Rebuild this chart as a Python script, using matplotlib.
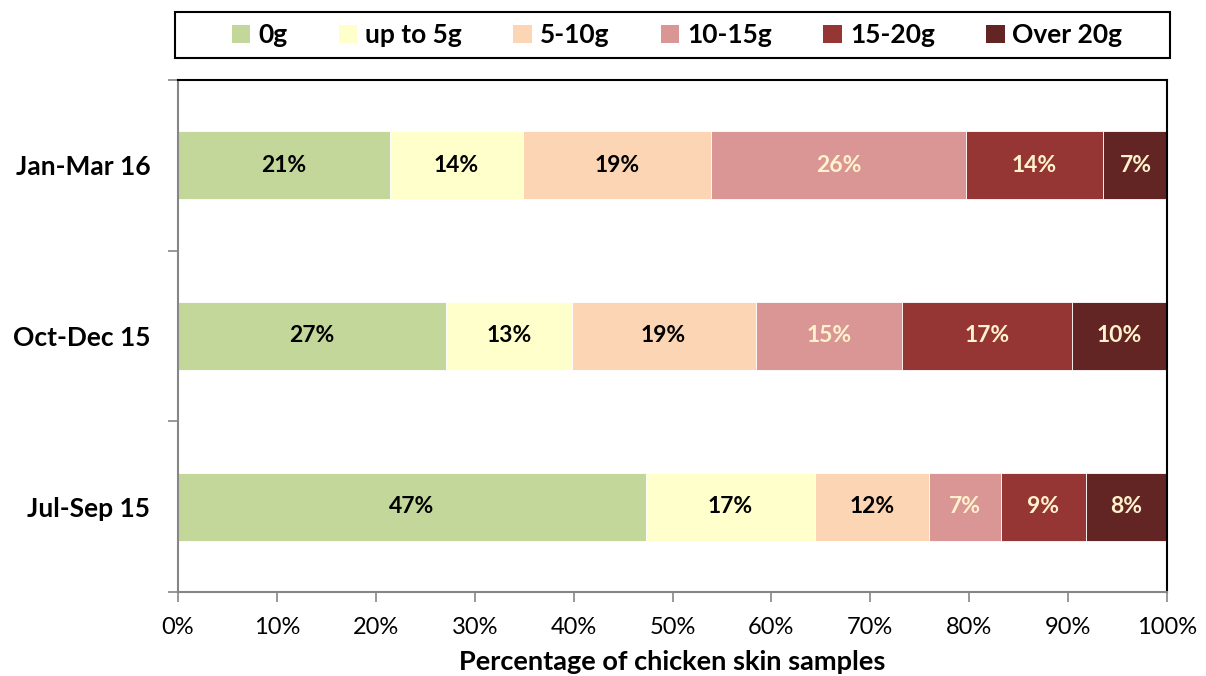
import numpy as np
import matplotlib.pyplot as plt
from matplotlib.patches import Patch, Rectangle

plt.rcParams['font.family'] = ['Lato', 'DejaVu Sans']

periods = ['Jul-Sep 15', 'Oct-Dec 15', 'Jan-Mar 16']
bands = ['0g', 'up to 5g', '5-10g', '10-15g', '15-20g', 'Over 20g']
colours = ['#C4D79B', '#FFFFCC', '#FCD5B4', '#DA9694', '#963634', '#632523']
label_cols = ['black', 'black', 'black', '#FFF2CC', '#FFF2CC', '#FFF2CC']

# percentage of samples per band, rows follow periods
shares = {
    '0g':       [47.3, 27.1, 21.4],
    'up to 5g': [17.1, 12.7, 13.5],
    '5-10g':    [11.5, 18.6, 19.0],
    '10-15g':   [7.3, 14.8, 25.8],
    '15-20g':   [8.6, 17.2, 13.8],
    'Over 20g': [8.2, 9.6, 6.6],
}

fig = plt.figure(figsize=(12.06, 6.76), dpi=100)
ax = fig.add_axes([0.1476, 0.1243, 0.8201, 0.7574])

y = np.arange(len(periods))
left = np.zeros(len(periods))
for band, col, tcol in zip(bands, colours, label_cols):
    vals = np.array(shares[band])
    ax.barh(y, vals, left=left, height=0.4, color=col, edgecolor='white', linewidth=0.6)
    for yi, l, v in zip(y, left, vals):
        ax.text(l + v / 2, yi, f'{v:.0f}%', ha='center', va='center',
                fontsize=16.5, fontweight='bold', color=tcol)
    left += vals

ax.set_xlim(0, 100)
ax.set_ylim(-0.5, 2.5)
ax.set_xticks(np.arange(0, 101, 10))
ax.set_xticklabels([f'{t}%' for t in range(0, 101, 10)], fontsize=17)
ax.set_yticks([-0.5, 0.5, 1.5, 2.5])
ax.set_yticklabels([])
ax.set_yticks(y, minor=True)
ax.set_yticklabels(periods, minor=True, fontsize=19, fontweight='bold')
ax.tick_params(axis='y', which='minor', length=0, pad=20)
ax.tick_params(axis='both', which='major', direction='out', length=7, color='#868686', width=1.2)
ax.tick_params(axis='x', pad=11)
for s in ['left', 'bottom']:
    ax.spines[s].set_color('#868686')
    ax.spines[s].set_linewidth(1.5)
for s in ['top', 'right']:
    ax.spines[s].set_color('black')
    ax.spines[s].set_linewidth(1.5)

ax.set_xlabel('Percentage of chicken skin samples', fontsize=19.5, fontweight='bold', labelpad=9)

# legend frame drawn separately so it can be wider than its entries
fig.patches.append(Rectangle((0.145, 0.914), 0.825, 0.068, transform=fig.transFigure,
                             facecolor='none', edgecolor='black', linewidth=1.5))
handles = [Patch(facecolor=c, edgecolor='none') for c in colours]
fig.legend(handles, bands, loc='center', ncol=6, bbox_to_anchor=(0.5615, 0.948),
           prop={'size': 19, 'weight': 'bold'}, frameon=False,
           handlelength=0.7, handleheight=0.7, handletextpad=0.3,
           borderaxespad=0, columnspacing=1.95)

fig.savefig('out.png', dpi=100)
